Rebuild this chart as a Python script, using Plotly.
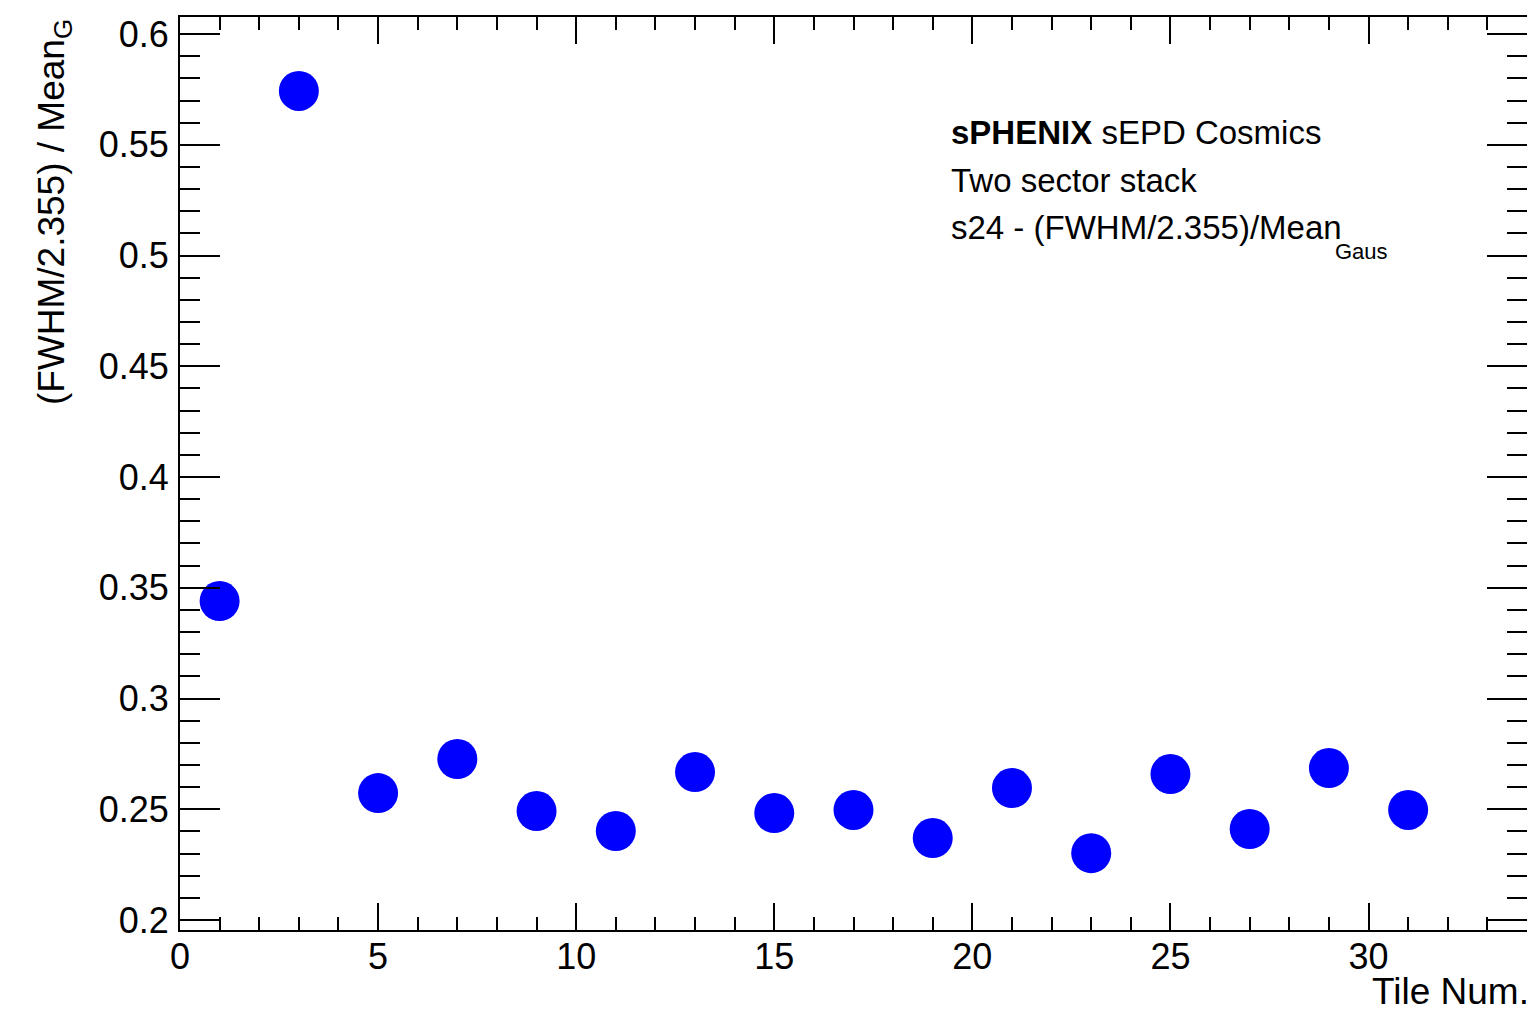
import plotly.graph_objects as go

tile = [1, 3, 5, 7, 9, 11, 13, 15, 17, 19, 21, 23, 25, 27, 29, 31]
ratio = [0.344, 0.5743, 0.2573, 0.2727, 0.2492, 0.2402, 0.2668, 0.2483,
         0.2497, 0.2370, 0.2596, 0.2302, 0.2659, 0.2411, 0.2686, 0.2497]

FONT = "Liberation Sans, Arial, Helvetica, sans-serif"

fig = go.Figure()
fig.add_trace(go.Scatter(x=tile, y=ratio, mode="markers",
                         marker=dict(color="#0000ff", size=40, line=dict(width=0)),
                         showlegend=False))

axis_common = dict(showgrid=False, zeroline=False, showline=True, linecolor="black",
                   linewidth=2, mirror="ticks", ticks="inside", tickcolor="black",
                   tickwidth=2, tickfont=dict(family=FONT, size=36, color="black"))

fig.update_xaxes(range=[0, 34], dtick=5, tick0=0, ticklen=27,
                 minor=dict(dtick=1, ticks="inside", ticklen=13, tickcolor="black", tickwidth=2),
                 ticklabelstandoff=-6,
                 **axis_common)
fig.update_yaxes(range=[0.1955, 0.6077], dtick=0.05, tick0=0.2, ticklen=40,
                 minor=dict(dtick=0.01, ticks="inside", ticklen=20, tickcolor="black", tickwidth=2),
                 ticklabelstandoff=2,
                 **axis_common)

XL = 0.5708
annots = [
    dict(x=1.0, y=-0.043, xref="paper", yref="paper", xanchor="right", yanchor="top",
         xshift=4, text="Tile Num.", showarrow=False,
         font=dict(family=FONT, size=37, color="black")),
    dict(x=-0.0935, y=1.0, xref="paper", yref="paper", xanchor="center", yanchor="top",
         text="(FWHM/2.355) / Mean<sub>G</sub>", textangle=-90, showarrow=False,
         font=dict(family=FONT, size=37, color="black")),
    dict(x=XL, y=0.8733, xref="paper", yref="paper", xanchor="left", yanchor="middle",
         text="<b>sPHENIX</b> sEPD Cosmics", showarrow=False,
         font=dict(family=FONT, size=33, color="black")),
    dict(x=XL, y=0.8208, xref="paper", yref="paper", xanchor="left", yanchor="middle",
         text="Two sector stack", showarrow=False,
         font=dict(family=FONT, size=33, color="black")),
    dict(x=XL, y=0.7694, xref="paper", yref="paper", xanchor="left", yanchor="middle",
         text="s24 - (FWHM/2.355)/Mean", showarrow=False,
         font=dict(family=FONT, size=33, color="black")),
    dict(x=(1335 - 180) / 1349, y=(922 - 242) / 915, xref="paper", yref="paper",
         xanchor="left", yanchor="middle",
         text="Gaus", showarrow=False,
         font=dict(family=FONT, size=22, color="black")),
]

fig.update_layout(width=1527, height=1005, margin=dict(l=172, r=6, t=7, b=83),
                  paper_bgcolor="white", plot_bgcolor="white", annotations=annots)

fig.write_html("out.html")
